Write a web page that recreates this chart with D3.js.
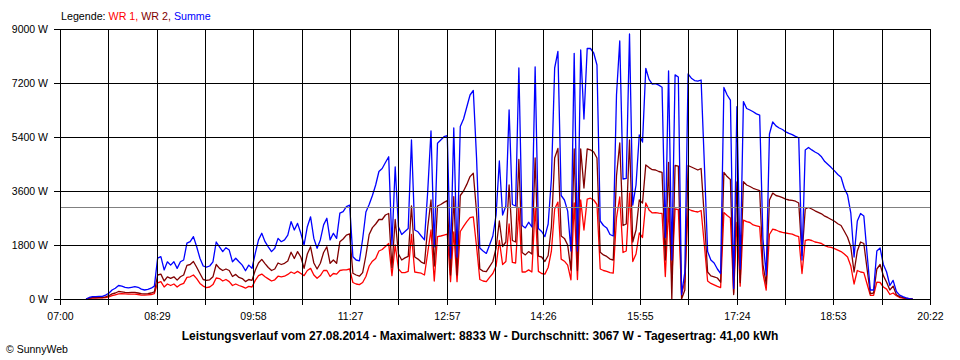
<!DOCTYPE html>
<html><head><meta charset="utf-8">
<script src="https://cdn.jsdelivr.net/npm/d3@7"></script>
<style>
html,body{margin:0;padding:0;background:#fff;}
svg{display:block;}
</style></head>
<body><svg id="chart" width="960" height="360"></svg>
<script>
// ---------- data ----------
const legendLabel = "Legende:";
const seriesNames = ["WR 1", "WR 2", "Summe"];
const firstSampleTime = "07:24";
const sampleStepMinutes = 3;
const xTickLabels = ["07:00","08:29","09:58","11:27","12:57","14:26","15:55","17:24","18:53","20:22"];
const yTickValues = [0, 1800, 3600, 5400, 7200, 9000];
const averageWatt = 3067;
const captionText = "Leistungsverlauf vom 27.08.2014 - Maximalwert: 8833 W - Durchschnitt: 3067 W - Tagesertrag: 41,00 kWh";
const creditText = "\u00A9 SunnyWeb";

const wr1 = [
0,20,30,30,40,40,50,70,110,140,
170,180,170,160,160,160,150,130,130,140,
150,180,540,580,400,500,450,500,400,480,
520,720,740,800,680,520,430,380,400,480,
700,680,600,650,580,450,500,450,410,360,
420,400,620,780,830,740,670,600,640,760,
740,760,820,900,850,920,850,780,950,1020,
800,690,780,950,950,750,850,830,950,970,
970,1000,550,500,480,550,750,1100,1260,1350,
1600,1650,1750,1850,780,1800,1000,880,880,920,
2150,900,880,860,800,1550,2300,600,2080,2100,
2130,2160,580,2240,580,2250,2420,2580,2710,2740,
1750,650,600,580,720,850,1100,1950,1150,1250,
2500,1220,1200,3050,900,900,970,900,3050,920,
850,830,1050,1600,3000,3230,1330,1260,1130,640,
3200,650,3300,2300,3330,3360,3300,3150,1000,950,
920,880,860,2700,3400,1550,1600,3533,1250,1500,
2200,2050,3200,2970,2870,2880,2860,2850,750,3050,
700,3000,2980,150,600,3000,2950,2920,2900,2950,
1800,600,520,470,420,380,2880,2780,2700,200,
2550,430,2630,2580,2550,2470,2440,2410,850,300,
2150,2330,2300,2250,2220,2200,2180,2160,2110,2080,
850,1950,1980,1950,1900,1880,1850,1780,1740,1720,
1680,1630,1580,1500,1400,1100,500,950,900,880,
500,120,120,560,550,400,330,150,200,110,
50,30,15,5,0];

const wr2 = [
0,30,50,50,50,50,70,110,170,200,
250,240,220,210,220,220,200,180,170,180,
200,240,800,830,600,740,690,740,630,740,
800,1120,1150,1250,1060,850,650,620,640,740,
1150,1020,950,1000,950,750,820,720,680,580,
650,620,960,1200,1320,1180,1050,950,1000,1200,
1150,1190,1270,1560,1350,1580,1400,1020,1500,1740,
1200,1000,1190,1550,1740,1190,1300,1190,1910,2000,
2130,2170,860,800,760,880,1450,2150,2380,2500,
2650,2650,2800,2850,1050,2650,1500,1300,1370,1420,
3100,1400,1330,1230,1180,2400,3300,1100,3100,3150,
3220,3280,800,3410,800,3450,3600,3820,4080,4190,
2900,1000,930,910,1080,1250,1700,2600,1750,1900,
3800,1950,1900,4650,1550,1470,1580,1500,4700,1430,
1400,1250,1450,2400,4700,5020,2100,2020,1800,960,
5000,950,5000,3700,5000,4970,4900,4700,1560,1470,
1420,1330,1300,4100,5200,2450,2500,5300,1900,2300,
3300,3200,4470,4380,4310,4300,4250,4220,1300,4550,
0,4450,4430,0,300,4450,4400,4350,4300,4350,
2700,900,770,740,700,560,4220,4080,3980,150,
3900,550,3910,3800,3750,3690,3650,3610,1150,500,
3300,3530,3450,3420,3380,3330,3300,3290,3260,3200,
1450,3000,3050,3000,2940,2890,2840,2760,2710,2650,
2590,2510,2450,2260,2060,1740,900,1600,1900,1850,
1000,180,200,1000,1150,780,560,300,430,140,
80,50,25,5,0];

const summe = [
0,50,80,80,90,90,130,190,300,360,
450,430,390,370,390,410,390,330,300,320,
360,430,1360,1410,970,1240,1130,1240,1020,1240,
1300,1860,1910,2080,1740,1360,1100,1060,1100,1240,
1900,1740,1580,1710,1630,1240,1360,1240,1130,940,
1130,1020,1520,1970,2190,1910,1740,1580,1690,2020,
1910,1970,2130,2580,2300,2520,2190,1800,2410,2740,
2020,1690,1970,2470,2690,1970,2190,2020,2860,2910,
3080,3130,1410,1300,1270,2000,2900,3150,3450,3800,
4250,4350,4550,4740,1800,4400,2400,2150,2250,2350,
5300,2300,2240,2100,1970,3600,5600,1740,5190,5300,
5410,5450,1360,5700,1400,5750,6000,6400,6800,6950,
4700,1700,1600,1520,1800,2100,2800,4600,2800,3100,
6300,3150,3100,7700,2450,2370,2560,2400,7740,2350,
2250,2080,2500,4000,7700,8250,3450,3300,2930,1600,
8190,1600,8300,6000,8350,8350,8200,7800,2600,2450,
2370,2150,2100,6800,8600,4000,4020,8833,3130,3800,
5470,5230,7690,7320,7160,7180,7130,7060,2050,7600,
1300,7470,7400,150,900,7500,7360,7280,7260,7300,
4500,1580,1300,1200,1000,850,7050,6800,6630,350,
6410,1000,6580,6350,6300,6240,6170,6130,2000,800,
5500,5900,5770,5700,5650,5570,5520,5480,5420,5370,
1300,4970,5050,4970,4900,4840,4740,4580,4480,4380,
4270,4150,4060,3690,3470,2860,1400,2600,2850,2770,
1500,300,300,1600,1700,1150,900,450,620,250,
130,80,40,10,0];

// ---------- chart ----------
if (wr1.length !== wr2.length || wr1.length !== summe.length) {
  throw new Error("series length mismatch " + wr1.length + " " + wr2.length + " " + summe.length);
}
const FONT = '"Liberation Sans", Arial, Helvetica, sans-serif';
const colors = ["#ff0000", "#800000", "#0000ff"];
const svg = d3.select("#chart").attr("font-family", FONT);
svg.append("rect").attr("width", 960).attr("height", 360).attr("fill", "#fff");

const toMin = s => { const p = s.split(":").map(Number); return p[0] * 60 + p[1]; };
const tStart = toMin(xTickLabels[0]);
const tEnd = toMin(xTickLabels[xTickLabels.length - 1]);
const plotLeft = 60, plotRight = 930, plotTop = 29, plotBottom = 299;

const x = d3.scaleLinear().domain([tStart, tEnd]).range([plotLeft, plotRight]);
const xr = x.copy().interpolate(d3.interpolateRound);
const y = d3.scaleLinear().domain([0, 9000]).range([plotBottom, plotTop]);
const yr = y.copy().interpolate(d3.interpolateRound);

const t0 = toMin(firstSampleTime);
const times = wr1.map((_, i) => t0 + i * sampleStepMinutes);

// series lines (WR 1, WR 2, Summe on top)
const series = [wr1, wr2, summe];
const line = d3.line().x((d, i) => x(times[i])).y(d => y(d));
svg.append("g").selectAll("path").data(series).join("path")
  .attr("d", d => line(d))
  .attr("fill", "none")
  .attr("stroke", (d, i) => colors[i])
  .attr("stroke-width", 1.3)
  .attr("stroke-linejoin", "round");

// average line
svg.append("line")
  .attr("x1", plotLeft).attr("x2", plotRight + 1)
  .attr("y1", yr(averageWatt) + 0.5).attr("y2", yr(averageWatt) + 0.5)
  .attr("stroke", "#808080").attr("shape-rendering", "crispEdges");

// grid (drawn over the data like the original)
const nGrid = (xTickLabels.length - 1) * 2;
const gridVals = d3.range(nGrid + 1).map(i => tStart + (tEnd - tStart) * i / nGrid);
const grid = svg.append("g").attr("stroke", "#000").attr("shape-rendering", "crispEdges");
grid.selectAll("line.v").data(gridVals).join("line").attr("class", "v")
  .attr("x1", d => xr(d) + 0.5).attr("x2", d => xr(d) + 0.5)
  .attr("y1", plotTop).attr("y2", plotBottom + 1);
grid.selectAll("line.h").data(yTickValues).join("line").attr("class", "h")
  .attr("x1", plotLeft).attr("x2", plotRight + 1)
  .attr("y1", d => yr(d) + 0.5).attr("y2", d => yr(d) + 0.5);

// axes
const xAxis = d3.axisBottom(xr).tickValues(gridVals).tickSize(6).tickPadding(8)
  .tickFormat((d, i) => i % 2 === 0 ? xTickLabels[i / 2] : "");
const gx = svg.append("g").attr("transform", `translate(0,${plotBottom})`).call(xAxis);
gx.select(".domain").remove();

const yAxis = d3.axisLeft(yr).tickValues(yTickValues).tickSize(6).tickPadding(6)
  .tickFormat(d => d + " W");
const gy = svg.append("g").attr("transform", `translate(${plotLeft},0)`).call(yAxis);
gy.select(".domain").remove();

[gx, gy].forEach(g => {
  g.attr("font-family", FONT).attr("font-size", 10.5).attr("color", "#000");
  g.selectAll("line").attr("shape-rendering", "crispEdges");
});

// legend
const lg = svg.append("text").attr("x", 61).attr("y", 20)
  .attr("font-size", 10.7).attr("fill", "#000");
lg.append("tspan").text(legendLabel + " ");
seriesNames.forEach((n, i) => {
  lg.append("tspan").attr("fill", colors[i]).text(n + (i < seriesNames.length - 1 ? ", " : ""));
});

// caption
svg.append("text").attr("x", 480).attr("y", 340).attr("text-anchor", "middle")
  .attr("font-size", 12).attr("font-weight", "bold").attr("fill", "#000").text(captionText);

// credit
svg.append("text").attr("x", 6).attr("y", 352.5).attr("font-size", 10.5)
  .attr("fill", "#000").text(creditText);
</script>
</body></html>
